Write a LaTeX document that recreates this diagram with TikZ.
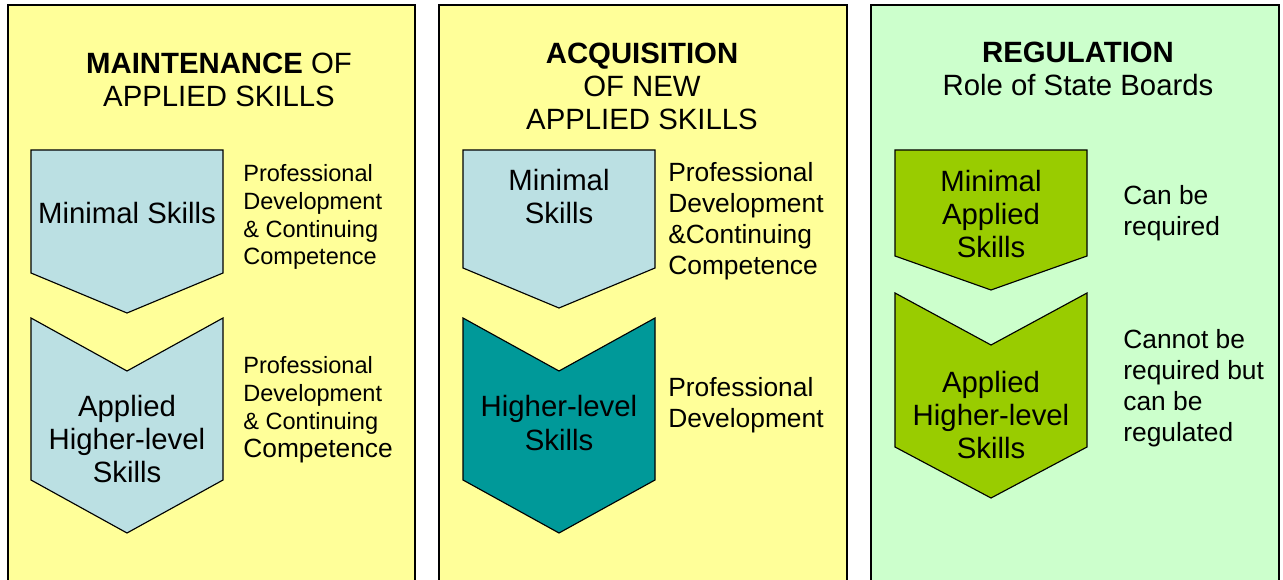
\documentclass[tikz,border=0pt]{standalone}
\usepackage{fontspec}
\setmainfont{Liberation Sans}
\usetikzlibrary{positioning}
\definecolor{myyellow}{RGB}{255, 255, 153}
\definecolor{mygreen1}{RGB}{204, 255, 204}
\definecolor{myblue}{RGB}{187, 224, 227}
\definecolor{myteal}{RGB}{0, 153, 153}
\definecolor{mylime}{RGB}{153, 204, 0}

\begin{document}
\begin{tikzpicture}[
    x = 0.02cm, y = -0.02cm,
    panel/.style = {line width = 1.1pt},
    chev/.style = {line width = 0.65pt},
    ttl/.style = {align = center, inner sep = 0pt, font = \fontsize{16.7}{18.8}\selectfont},
    big/.style = {align = center, inner sep = 0pt, font = \fontsize{16.7}{18.8}\selectfont},
    side/.style = {align = left, anchor = west, inner sep = 0pt, font = \fontsize{15}{17.65}\selectfont},
    sidesm/.style = {side, font = \fontsize{13.4}{15.9}\selectfont},
]

\useasboundingbox (0,0) rectangle (1283,580);
\clip (0,0) rectangle (1283,580);

\draw[panel, fill = myyellow] (8,5) rectangle (415,600);
\draw[panel, fill = myyellow] (439,5) rectangle (847,600);
\draw[panel, fill = mygreen1] (871,5) rectangle (1279,600);

% maintenance
\node[ttl] (ttlMaint) at (219,80) {\textbf{MAINTENANCE} OF\\APPLIED SKILLS};

\draw[chev, fill = myblue] (31,150) -- (223,150) -- (223,273) -- (127,313) -- (31,273) -- cycle;
\draw[chev, fill = myblue] (31,318) -- (127,371) -- (223,318) -- (223,480) -- (127,533) -- (31,480) -- cycle;
\node[big] (minMaint) at (127,213) {Minimal Skills};
\node[big] (highMaint) at (127,439) {Applied\\Higher-level\\Skills};

\node[sidesm] (pdMaint1) at (243,217) {Professional\\Development\\\& Continuing\\Competence};
\node[sidesm] (pdMaint2) at (243,410) {Professional\\Development\\\& Continuing\\{\fontsize{15}{15.9}\selectfont Competence}};

% acquisition
\node[ttl] (ttlAcq) at (642,86) {\textbf{ACQUISITION}\\OF NEW\\APPLIED SKILLS};

\draw[chev, fill = myblue] (463,150) -- (655,150) -- (655,268) -- (559,308) -- (463,268) -- cycle;
\draw[chev, fill = myteal] (463,318) -- (559,371) -- (655,318) -- (655,480) -- (559,533) -- (463,480) -- cycle;
\node[big] (minAcq) at (559,197) {Minimal\\Skills};
\node[big] (highAcq) at (559,423) {Higher-level\\Skills};

\node[side] (pdAcq1) at (668,221) {Professional\\Development\\\&Continuing\\Competence};
\node[side] (pdAcq2) at (668,405) {Professional\\Development};

% regulation
\node[ttl] (ttlReg) at (1078,69) {\textbf{REGULATION}\\Role of State Boards};

\draw[chev, fill = mylime] (895,150) -- (1087,150) -- (1087,256) -- (991,290) -- (895,256) -- cycle;
\draw[chev, fill = mylime] (895,293) -- (991,345) -- (1087,293) -- (1087,447) -- (991,498) -- (895,447) -- cycle;
\node[big] (minReg) at (991,214) {Minimal\\Applied\\Skills};
\node[big] (highReg) at (991,415) {Applied\\Higher-level\\Skills};

\node[side] (canReg) at (1123,213) {Can be\\required};
\node[side] (cannotReg) at (1123,388) {Cannot be\\required but\\can be\\regulated};

\end{tikzpicture}
\end{document}
